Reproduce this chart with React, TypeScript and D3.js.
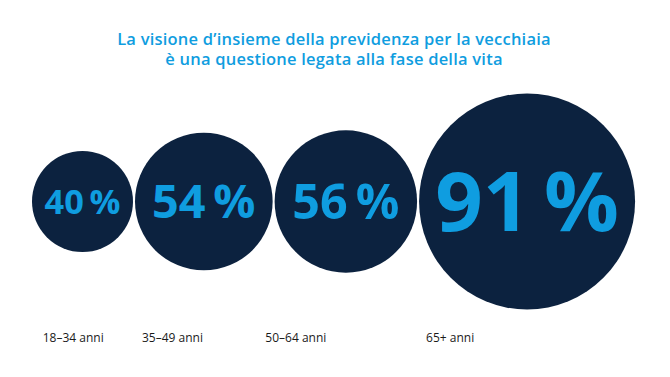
import React from "react";
import * as d3 from "d3";

const titleLines = [
  "La visione d’insieme della previdenza per la vecchiaia",
  "è una questione legata alla fase della vita",
];
const ageGroups = ["18–34 anni", "35–49 anni", "50–64 anni", "65+ anni"];
const shares = [40, 54, 56, 91];

const W = 670;
const H = 377;
const NAVY = "#0c223f";
const BLUE = "#0f9de0";
const FONT = "'Open Sans', Lato, sans-serif";

export default function App() {
  const r = d3.scaleSqrt().domain([40, 91]).range([50.5, 108]);
  const cy = 201.5;
  const gap = 2;
  let x = 32;
  const circles = shares.map((v, i) => {
    const rad = r(v);
    const cx = x + rad;
    x = cx + rad + gap;
    return { v, i, rad, cx };
  });
  const labelOffsets = [10.7, 7, -9.3, 7];
  return (
    <svg
      width={W}
      height={H}
      style={{ position: "absolute", left: 0, top: 0, background: "#fff" }}
    >
      {titleLines.map((t, i) => (
        <text
          key={i}
          x={334}
          y={45 + i * 20}
          textAnchor="middle"
          fill={BLUE}
          fontFamily={FONT}
          fontWeight={600}
          fontSize={16.5}
          letterSpacing={0.22}
        >
          {t}
        </text>
      ))}
      {circles.map((c) => {
        const fs = c.rad * (c.v > 80 ? 0.77 : 0.68);
        return (
          <g key={c.i}>
            <circle cx={c.cx} cy={cy} r={c.rad} fill={NAVY} />
            <text
              x={c.cx}
              y={cy + fs * 0.357}
              textAnchor="middle"
              fill={BLUE}
              fontFamily={FONT}
              fontWeight={700}
              fontSize={fs}
            >
              {`${c.v}\u2009%`}
            </text>
            <text
              x={c.cx - c.rad + labelOffsets[c.i]}
              y={342}
              fill="#1a1a1a"
              fontFamily={FONT}
              fontSize={12}
            >
              {ageGroups[c.i]}
            </text>
          </g>
        );
      })}
    </svg>
  );
}
